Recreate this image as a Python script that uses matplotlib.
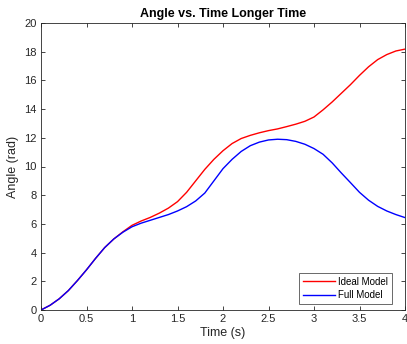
from matplotlib import pyplot as plt

# sampled angle response (rad) every 0.1 s
time = [0.0, 0.1, 0.2, 0.3, 0.4, 0.5, 0.6, 0.7, 0.8, 0.9,
        1.0, 1.1, 1.2, 1.3, 1.4, 1.5, 1.6, 1.7, 1.8, 1.9,
        2.0, 2.1, 2.2, 2.3, 2.4, 2.5, 2.6, 2.7, 2.8, 2.9,
        3.0, 3.1, 3.2, 3.3, 3.4, 3.5, 3.6, 3.7, 3.8, 3.9, 4.0]

ideal = [0.0, 0.33, 0.78, 1.35, 2.05, 2.8, 3.6, 4.35, 4.95, 5.45,
         5.9, 6.2, 6.45, 6.75, 7.1, 7.55, 8.2, 9.0, 9.8, 10.5,
         11.1, 11.6, 11.95, 12.17, 12.35, 12.5, 12.62, 12.78, 12.95, 13.15,
         13.45, 13.95, 14.5, 15.1, 15.7, 16.35, 16.95, 17.45, 17.8, 18.05, 18.18]

full = [0.0, 0.33, 0.78, 1.35, 2.05, 2.8, 3.6, 4.35, 4.95, 5.42,
        5.8, 6.05, 6.25, 6.45, 6.65, 6.9, 7.2, 7.6, 8.15, 9.0,
        9.85, 10.5, 11.05, 11.45, 11.7, 11.85, 11.9, 11.87, 11.75, 11.55,
        11.25, 10.85, 10.25, 9.55, 8.88, 8.2, 7.65, 7.22, 6.9, 6.65, 6.44]

xticks = [0, 0.5, 1, 1.5, 2, 2.5, 3, 3.5, 4]
xlabels = ["0", "0.5", "1", "1.5", "2", "2.5", "3", "3.5", "4"]
yticks = [0, 2, 4, 6, 8, 10, 12, 14, 16, 18, 20]

plt.rcParams["font.family"] = ["Liberation Sans", "DejaVu Sans"]
dark = "#262626"

fig = plt.figure(figsize=(4.07, 3.44), dpi=100)
ax = fig.add_axes([41 / 407, 34 / 344, 364 / 407, 287 / 344])

ax.plot(time, ideal, color="red", linewidth=1.0, label="Ideal Model")
ax.plot(time, full, color="blue", linewidth=1.0, label="Full Model")

ax.set_xlim(0, 4)
ax.set_ylim(0, 20)
ax.set_xticks(xticks)
ax.set_xticklabels(xlabels)
ax.set_yticks(yticks)

ax.tick_params(direction="in", top=True, right=True, length=3, width=0.6,
               colors=dark, labelsize=8, pad=3)
for side in ax.spines.values():
    side.set_color(dark)
    side.set_linewidth(0.6)

ax.set_xlabel("Time (s)", fontsize=9, color=dark, labelpad=2)
ax.set_ylabel("Angle (rad)", fontsize=9, color=dark, labelpad=4)
ax.set_title("Angle vs. Time Longer Time", fontsize=9, fontweight="bold",
             color="black", pad=4)

leg = ax.legend(loc="lower right", bbox_to_anchor=(0.964, 0.021),
                borderaxespad=0, fontsize=7, frameon=True, fancybox=False,
                edgecolor=dark, handlelength=3.3, handletextpad=0.3,
                borderpad=0.4, labelspacing=0.35)
leg.get_frame().set_linewidth(0.6)

fig.savefig("out.png", dpi=100)
